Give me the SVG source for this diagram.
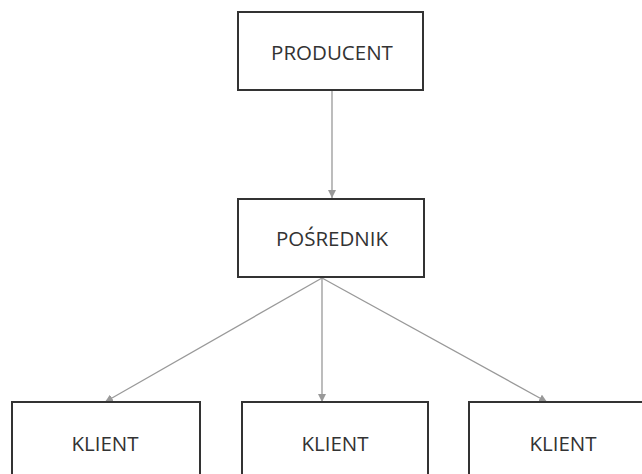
<svg xmlns="http://www.w3.org/2000/svg" width="642" height="474" viewBox="0 0 642 474">
<defs>
<style>
.box{fill:#fff;stroke:#333;stroke-width:2}
.lbl{font-family:"Open Sans","Liberation Sans",sans-serif;font-size:20.5px;fill:#333;text-anchor:middle;dominant-baseline:central}
.con{stroke:#999;stroke-width:1.3;fill:none;marker-end:url(#ah)}
</style>
<marker id="ah" viewBox="0 0 10 10" refX="10" refY="5" markerWidth="8" markerHeight="8" markerUnits="userSpaceOnUse" orient="auto">
<path d="M0,0 L10,5 L0,10 z" fill="#999"/>
</marker>
</defs>
<rect width="642" height="474" fill="#fff"/>
<g id="connectors">
<line class="con" x1="332" y1="91" x2="332" y2="198"/>
<line class="con" x1="322" y1="278" x2="105" y2="402"/>
<line class="con" x1="322" y1="278" x2="322" y2="402"/>
<line class="con" x1="322" y1="278" x2="547" y2="402"/>
</g>
<g id="producent"><rect class="box" x="238" y="12" width="185" height="78"/><text class="lbl" x="332" y="52">PRODUCENT</text></g>
<g id="posrednik"><rect class="box" x="238" y="199" width="186" height="78"/><text class="lbl" x="332" y="238">POŚREDNIK</text></g>
<g id="klient1"><rect class="box" x="12" y="402" width="188" height="80"/><text class="lbl" x="105" y="443">KLIENT</text></g>
<g id="klient2"><rect class="box" x="242" y="402" width="186" height="80"/><text class="lbl" x="335" y="443">KLIENT</text></g>
<g id="klient3"><rect class="box" x="469" y="402" width="185" height="80"/><text class="lbl" x="563" y="443">KLIENT</text></g>
</svg>
